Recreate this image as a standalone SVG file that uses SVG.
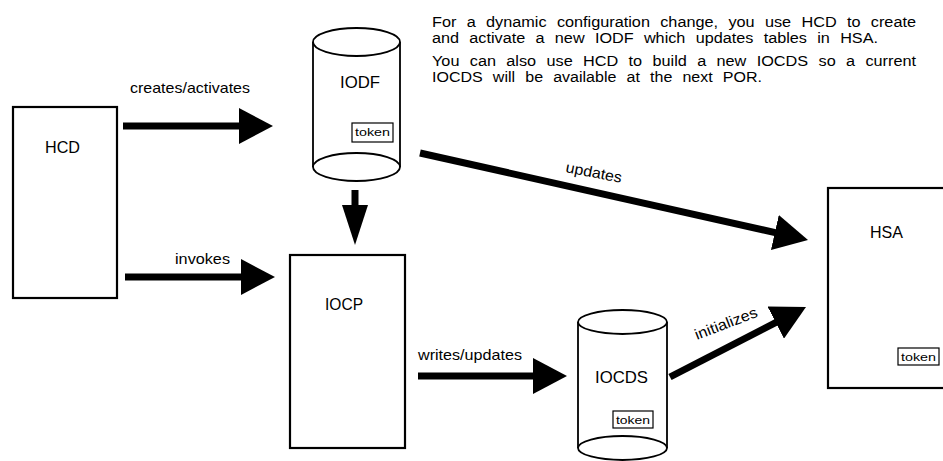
<svg xmlns="http://www.w3.org/2000/svg" width="943" height="461" viewBox="0 0 943 461">
<style>
  .box { fill: #fff; stroke: #000; stroke-width: 2.2; }
  .cyl { fill: #fff; stroke: #000; stroke-width: 1.8; }
  .tok { fill: #fff; stroke: #000; stroke-width: 1.2; }
  .lbl { font-family: "Liberation Sans", Arial, sans-serif; font-size: 17px; fill: #000; }
  .tt { font-family: "Liberation Sans", Arial, sans-serif; font-size: 11px; fill: #000; }
  .cl { font-family: "Liberation Sans", Arial, sans-serif; font-size: 15px; fill: #000; }
  .para { font-family: "Liberation Sans", Arial, sans-serif; font-size: 14px; word-spacing: 5px; fill: #000; }
  .arr { stroke: #000; stroke-width: 7; fill: none; marker-end: url(#head); }
  .arrS { stroke: #000; stroke-width: 7; fill: none; marker-end: url(#headS); }
</style>
<defs>
  <marker id="head" markerUnits="userSpaceOnUse" markerWidth="34" markerHeight="36" refX="14" refY="18" orient="auto">
    <path d="M0,0 L34,18 L0,36 z" fill="#000"/>
  </marker>
  <marker id="headS" markerUnits="userSpaceOnUse" markerWidth="40" markerHeight="26" refX="20" refY="13" orient="auto">
    <path d="M0,0 L40,13 L0,26 z" fill="#000"/>
  </marker>
</defs>
<rect width="943" height="461" fill="#fff"/>

<g id="note">
  <text class="para" x="432" y="27" textLength="484" lengthAdjust="spacingAndGlyphs">For a dynamic configuration change, you use HCD to create</text>
  <text class="para" x="432" y="43" textLength="446" lengthAdjust="spacingAndGlyphs">and activate a new IODF which updates tables in HSA.</text>
  <text class="para" x="432" y="66" textLength="484" lengthAdjust="spacingAndGlyphs">You can also use HCD to build a new IOCDS so a current</text>
  <text class="para" x="432" y="82" textLength="330" lengthAdjust="spacingAndGlyphs">IOCDS will be available at the next POR.</text>
</g>

<g id="connectors">
  <line class="arr" x1="123" y1="126" x2="253" y2="126"/>
  <line class="arr" x1="125" y1="277" x2="255" y2="277"/>
  <line class="arrS" x1="355" y1="190" x2="355" y2="225"/>
  <line class="arr" x1="420" y1="153" x2="788.5" y2="235.6"/>
  <line class="arr" x1="418" y1="376" x2="547" y2="376"/>
  <line class="arr" x1="670" y1="377" x2="788.2" y2="316.2"/>
  <text class="cl" x="130" y="93" textLength="120" lengthAdjust="spacingAndGlyphs">creates/activates</text>
  <text class="cl" x="175" y="264" textLength="55" lengthAdjust="spacingAndGlyphs">invokes</text>
  <text class="cl" x="565" y="172" textLength="57" lengthAdjust="spacingAndGlyphs" transform="rotate(11 565 172)">updates</text>
  <text class="cl" x="418" y="360" textLength="104" lengthAdjust="spacingAndGlyphs">writes/updates</text>
  <text class="cl" x="697" y="340" textLength="66" lengthAdjust="spacingAndGlyphs" transform="rotate(-21 697 340)">initializes</text>
</g>

<g id="HCD">
  <rect class="box" x="13" y="107" width="104" height="191"/>
  <text class="lbl" x="45" y="153" textLength="35" lengthAdjust="spacingAndGlyphs">HCD</text>
</g>

<g id="IODF">
  <path class="cyl" d="M313,42 L313,167 M400,42 L400,167"/>
  <ellipse class="cyl" cx="356.5" cy="42" rx="43.5" ry="14"/>
  <ellipse class="cyl" cx="356.5" cy="167" rx="43.5" ry="14"/>
  <text class="lbl" x="340" y="88" textLength="40" lengthAdjust="spacingAndGlyphs">IODF</text>
  <rect class="tok" x="352" y="123" width="41" height="19"/>
  <text class="tt" x="355" y="136" textLength="35" lengthAdjust="spacingAndGlyphs">token</text>
</g>

<g id="IOCP">
  <rect class="box" x="290" y="255" width="115" height="193"/>
  <text class="lbl" x="325" y="310" textLength="38" lengthAdjust="spacingAndGlyphs">IOCP</text>
</g>

<g id="IOCDS">
  <path class="cyl" d="M578,322 L578,448 M667,322 L667,448"/>
  <ellipse class="cyl" cx="622.5" cy="322" rx="44.5" ry="12"/>
  <ellipse class="cyl" cx="622.5" cy="448" rx="44.5" ry="12"/>
  <text class="lbl" x="595" y="383" textLength="53" lengthAdjust="spacingAndGlyphs">IOCDS</text>
  <rect class="tok" x="613" y="411" width="40" height="17"/>
  <text class="tt" x="616" y="423.5" textLength="34" lengthAdjust="spacingAndGlyphs">token</text>
</g>

<g id="HSA">
  <rect class="box" x="828" y="188" width="130" height="200"/>
  <text class="lbl" x="870" y="238" textLength="33" lengthAdjust="spacingAndGlyphs">HSA</text>
  <rect class="tok" x="898" y="348" width="41" height="17"/>
  <text class="tt" x="901" y="360.5" textLength="35" lengthAdjust="spacingAndGlyphs">token</text>
</g>
</svg>
